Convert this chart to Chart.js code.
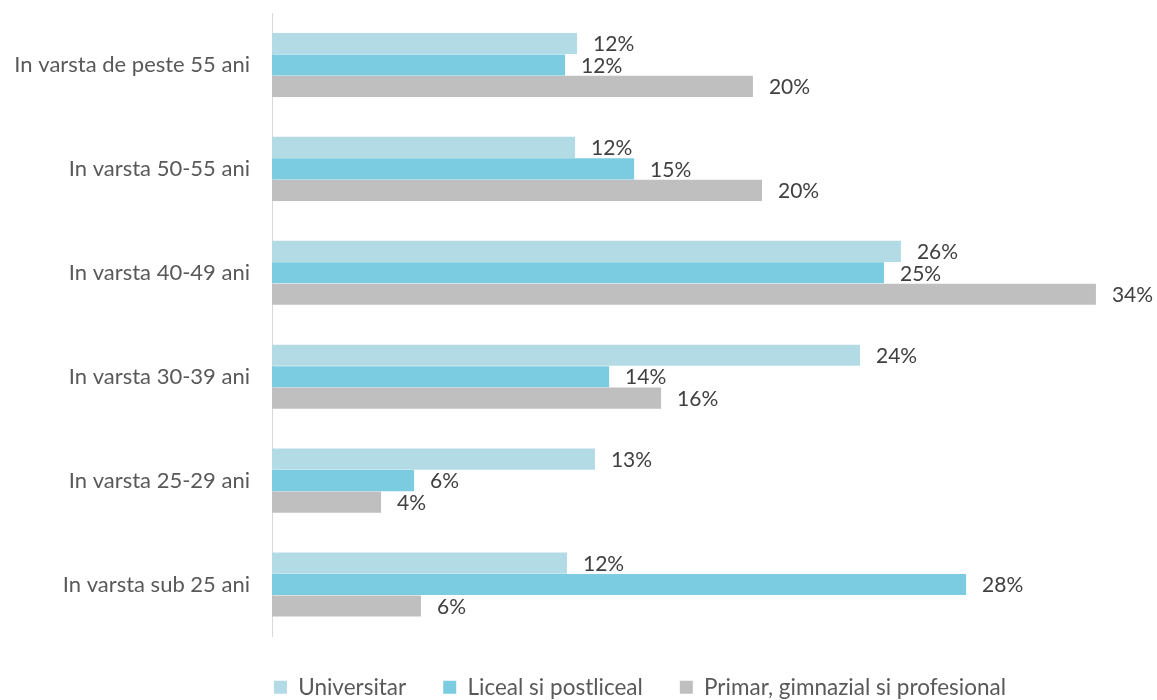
<!DOCTYPE html>
<html>
<head>
<meta charset="utf-8">
<script src="https://cdn.jsdelivr.net/npm/chart.js@4"></script>
<style>
  html, body { margin: 0; padding: 0; background: #fff; }
  #wrap { width: 1157px; height: 700px; position: relative; }
</style>
</head>
<body>
<div id="wrap"><canvas id="chart"></canvas></div>
<script>
const categories = [
    'In varsta de peste 55 ani',
    'In varsta 50-55 ani',
    'In varsta 40-49 ani',
    'In varsta 30-39 ani',
    'In varsta 25-29 ani',
    'In varsta sub 25 ani'
];
const seriesNames = ['Universitar', 'Liceal si postliceal', 'Primar, gimnazial si profesional'];
const universitar = [12.45, 12.37, 25.67, 24.0, 13.18, 12.04];
const liceal = [11.96, 14.78, 24.98, 13.76, 5.80, 28.33];
const primar = [19.63, 20.0, 33.63, 15.88, 4.45, 6.08];

const colors = ['#b2dbe6', '#7bcce0', '#bfbfbf'];
const fontFamily = "Lato, 'Open Sans', sans-serif";

// value labels at the end of each bar
const valueLabels = {
    id: 'valueLabels',
    afterDatasetsDraw(chart) {
        const ctx = chart.ctx;
        ctx.save();
        ctx.font = '21px ' + fontFamily;
        ctx.fillStyle = '#404040';
        ctx.textAlign = 'left';
        ctx.textBaseline = 'middle';
        chart.data.datasets.forEach((ds, i) => {
            const meta = chart.getDatasetMeta(i);
            meta.data.forEach((bar, j) => {
                ctx.fillText(Math.round(ds.data[j]) + '%', bar.x + 16, bar.y + 1);
            });
        });
        ctx.restore();
    }
};

// move the legend so it sits where the original one is
const legendShift = {
    id: 'legendShift',
    afterLayout(chart) {
        const lg = chart.legend;
        lg.left += 63;
        lg.right += 63;
        lg.top += 2.5;
        lg.bottom += 2.5;
    }
};

const ctx = document.getElementById('chart').getContext('2d');
new Chart(ctx, {
    type: 'bar',
    data: {
        labels: categories,
        datasets: [
            { label: seriesNames[0], data: universitar, backgroundColor: colors[0] },
            { label: seriesNames[1], data: liceal, backgroundColor: colors[1] },
            { label: seriesNames[2], data: primar, backgroundColor: colors[2] }
        ]
    },
    options: {
        indexAxis: 'y',
        responsive: true,
        maintainAspectRatio: false,
        animation: false,
        datasets: {
            bar: { categoryPercentage: 0.62, barPercentage: 0.985 }
        },
        layout: { padding: { top: 13, right: 3, left: 0, bottom: -6 } },
        scales: {
            x: { display: false, min: 0, max: 36 },
            y: {
                grid: { display: false, drawTicks: false },
                border: { display: true, color: '#d9d9d9', width: 1 },
                ticks: {
                    color: '#595959',
                    padding: 22,
                    font: { family: fontFamily, size: 22 }
                },
                afterFit: (s) => {
                    s.width = 272;
                    s.paddingTop = 0;
                    s.paddingBottom = 0;
                }
            }
        },
        plugins: {
            tooltip: { enabled: false },
            legend: {
                position: 'bottom',
                labels: {
                    color: '#595959',
                    boxWidth: 13,
                    boxHeight: 13,
                    padding: 37,
                    font: { family: fontFamily, size: 22.5 }
                }
            }
        }
    },
    plugins: [valueLabels, legendShift]
});
</script>
</body>
</html>
